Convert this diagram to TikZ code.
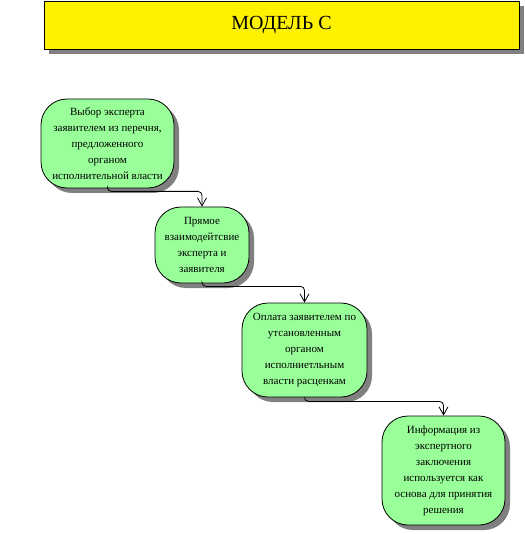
\documentclass[tikz,border=0pt]{standalone}
\usepackage{fontspec}
\setmainfont{Liberation Serif}
\usetikzlibrary{arrows.meta,shadows}
\definecolor{boxgreen}{RGB}{153,255,153}
\definecolor{shadowgray}{RGB}{128,128,128}
\begin{document}
\begin{tikzpicture}[x=1pt, y=-1pt,
    shade box/.style={draw=black, line width=0.8pt, drop shadow={shadow xshift=5pt, shadow yshift=-5pt, fill=shadowgray, opacity=1}},
    stage/.style={shade box, fill=boxgreen, rounded corners=26pt, align=center, inner sep=0pt,
        font=\rmfamily\fontsize{11}{16}\selectfont},
    conn/.style={line width=0.8pt, rounded corners=4pt, -{Straight Barb[length=8pt, width=9pt, line width=0.8pt]}}]
    \useasboundingbox (0,0) rectangle (524,534);
    % заголовок
    \node[shade box, fill=yellow, minimum width=475pt, minimum height=48pt,
        font=\rmfamily\fontsize{20}{24}\selectfont] (title) at (281.5,25) {МОДЕЛЬ С};
    % этапы
    \node[stage, minimum width=133pt, minimum height=89pt] (choice) at (107.5,143.5)
        {Выбор эксперта\\заявителем из перечня,\\предложенного\\органом\\исполнительной власти};
    \node[stage, minimum width=94pt, minimum height=76pt] (contact) at (202,245)
        {Прямое\\взаимодейтсвие\\эксперта и\\заявителя};
    \node[stage, minimum width=125pt, minimum height=94pt] (payment) at (304.5,350)
        {Оплата заявителем по\\утсановленным\\органом\\исполниетльным\\власти расценкам};
    \node[stage, minimum width=123pt, minimum height=109pt] (decision) at (443.5,470.5)
        {Информация из\\экспертного\\заключения\\используется как\\основа для принятия\\решения};
    % стрелки
    \draw[conn] (choice.south) -- ++(0,3) -| (contact.north);
    \draw[conn] (contact.south) -- ++(0,3) -| (payment.north);
    \draw[conn] (payment.south) -- ++(0,4) -| (decision.north);
\end{tikzpicture}
\end{document}
